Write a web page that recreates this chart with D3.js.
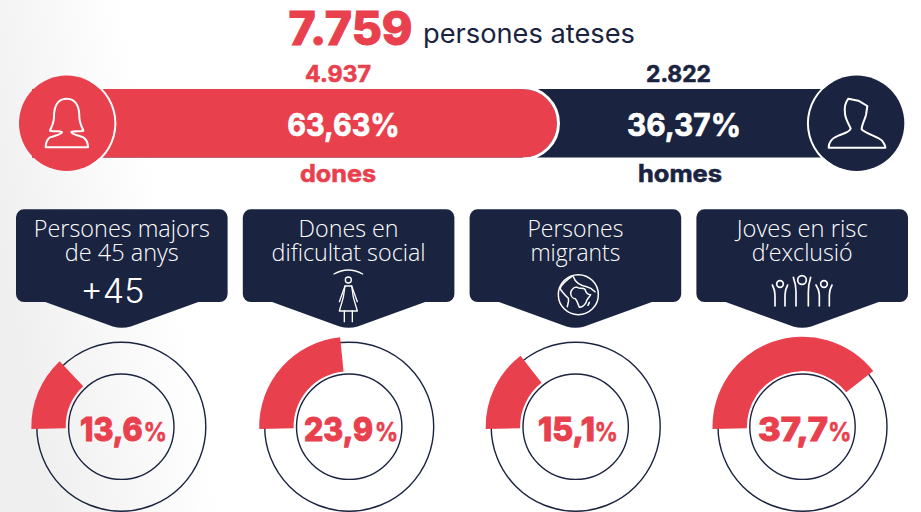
<!DOCTYPE html>
<html>
<head>
<meta charset="utf-8">
<style>
html, body { margin: 0; padding: 0; background: #fff; }
svg { display: block; }
text { font-family: Inter, "Open Sans", sans-serif; }
.light { font-family: "Open Sans", sans-serif; font-weight: 300; }
</style>
<script src="https://cdn.jsdelivr.net/npm/d3@7"></script>
</head>
<body>
<svg id="chart" width="921" height="512"></svg>
<script>
var totalLabel = '7.759';
var totalCaption = 'persones ateses';
var genderNames = ['dones', 'homes'];
var genderCounts = ['4.937', '2.822'];
var genderShares = [63.63, 36.37];

var groupTitles = [
    ['Persones majors', 'de 45 anys'],
    ['Dones en', 'dificultat social'],
    ['Persones', 'migrants'],
    ['Joves en risc', 'd\u2019exclusió']
];
var groupLabels = [13.6, 23.9, 15.1, 37.7];
// sweep of each red arc (the last one is drawn wider than its label)
var groupSweeps = [13.4, 23.8, 14.9, 39.8];

(function(){
    var red = '#e9404e',
        navy = '#1a2340';

    var fmt = function(v, digits){ return v.toFixed(digits).replace('.', ','); };

    var svg = d3.select('#chart');

    // pale grey wash on the left edge
    var grad = svg.append('defs').append('linearGradient')
        .attr('id', 'wash')
        .attr('gradientUnits', 'userSpaceOnUse')
        .attr('x1', 0).attr('y1', 256)
        .attr('x2', 165).attr('y2', 224);
    grad.append('stop').attr('offset', 0).attr('stop-color', '#efefef');
    grad.append('stop').attr('offset', 1).attr('stop-color', '#fff');
    svg.append('rect').attr('width', 921).attr('height', 512).attr('fill', 'url(#wash)');

    // fits a label to the width it has in the picture, bold thickens the glyphs a little
    function label(parent, x, y, str, size, weight, col, len, bold){
        var t = parent.append('text')
            .attr('x', x).attr('y', y)
            .attr('text-anchor', 'middle')
            .attr('font-size', size)
            .attr('font-weight', weight)
            .attr('fill', col)
            .text(str);
        if (len) t.attr('textLength', len).attr('lengthAdjust', 'spacingAndGlyphs');
        if (bold) t.attr('stroke', col).attr('stroke-width', bold);
        return t;
    }

    // headline
    label(svg, 350.5, 45, totalLabel, 46, 800, red, 124, 1);
    label(svg, 529, 43, totalCaption, 26, 400, navy, 212);

    // stacked bar
    var x = d3.scaleLinear().domain([0, 100]).range([32, 857]);
    var barTop = 89, barH = 68.5, barR = barH / 2;
    var split = x(genderShares[0]);

    svg.append('rect')
        .attr('x', x(0)).attr('y', barTop)
        .attr('width', x(100) - x(0)).attr('height', barH)
        .attr('fill', navy);

    var womenPath = d3.path();
    womenPath.moveTo(x(0), barTop);
    womenPath.lineTo(split - barR, barTop);
    womenPath.arc(split - barR, barTop + barR, barR, -Math.PI / 2, Math.PI / 2);
    womenPath.lineTo(x(0), barTop + barH);
    womenPath.closePath();
    svg.append('path').attr('d', womenPath.toString()).attr('fill', red);

    // white edge on the round end only
    var edge = d3.path();
    edge.arc(split - barR, barTop + barR, barR + 1.5, -Math.PI / 2, Math.PI / 2);
    svg.append('path')
        .attr('d', edge.toString())
        .attr('fill', 'none')
        .attr('stroke', '#fff')
        .attr('stroke-width', 3);

    var ends = [
        {cx: 66.7, col: red},
        {cx: 856.6, col: navy}
    ];
    svg.selectAll('.end').data(ends).enter().append('circle')
        .attr('class', 'end')
        .attr('cx', function(d){ return d.cx })
        .attr('cy', 123.3)
        .attr('r', 47.7)
        .attr('fill', function(d){ return d.col });
    // white ring where the circle meets the bar
    [[66.7, 30, 150], [856.6, 210, 330]].forEach(function(a){
        svg.append('path')
            .attr('transform', 'translate(' + a[0] + ',123.3)')
            .attr('d', d3.arc()({
                innerRadius: 47.7, outerRadius: 49.7,
                startAngle: a[1] * Math.PI / 180, endAngle: a[2] * Math.PI / 180
            }))
            .attr('fill', '#fff');
    });

    var shareX = [343.5, 684];
    var shareLen = [112.5, 114];
    var countX = [338, 678.5];
    var countLen = [66, 65];
    var nameX = [338, 680];
    var nameLen = [76, 84];
    var genderCols = [red, navy];
    genderNames.forEach(function(n, i){
        label(svg, countX[i], 82.3, genderCounts[i], 23, 700, genderCols[i], countLen[i], 0.6);
        label(svg, shareX[i], 136, fmt(genderShares[i], 2) + '%', 31, 700, '#fff', shareLen[i], 0.7);
        label(svg, nameX[i], 181.7, n, 24, 700, genderCols[i], nameLen[i], 0.6);
    });

    // person icons, outlined by eye in 3x picture coordinates
    var iconStroke = {fill: 'none', stroke: '#fff', 'stroke-width': 6, 'stroke-linejoin': 'round', 'stroke-linecap': 'round'};
    function icon(tx, ty, sw){
        var g = svg.append('g').attr('transform', 'translate(' + tx + ',' + ty + ') scale(' + (1 / 3) + ')');
        for (var k in iconStroke) g.attr(k, iconStroke[k]);
        if (sw) g.attr('stroke-width', sw);
        return g;
    }
    icon(0, 0).append('path').attr('d',
        'M200 296C170 296 162 325 162 350C162 370 152 385 150 392C165 396 180 392 186 396C186 403 170 405 150 412' +
        'C140 420 137 432 137 442L264 442C264 430 262 420 250 412C232 405 214 403 214 396C222 392 236 396 250 392' +
        'C248 385 238 370 238 350C238 325 230 296 200 296Z');
    icon(460, 0).append('path').attr('d',
        'M1165 296L1195 302L1222 318L1218 345C1214 360 1205 375 1205 388C1215 400 1255 410 1266 422' +
        'C1272 430 1276 437 1276 443L1106 443C1106 430 1115 415 1135 407C1150 400 1170 397 1172 385' +
        'C1165 370 1155 355 1155 340C1152 320 1158 305 1165 296Z');

    // group cards
    var cardX = d3.scaleBand().domain(d3.range(4)).range([16, 908]).paddingInner(0.067);
    var cw = cardX.bandwidth();
    var cardTop = 209.3, cardBot = 302, tipY = 328, rr = 8;

    function cardPath(){
        var m = cw / 2;
        var p = d3.path();
        p.moveTo(rr, cardTop);
        p.lineTo(cw - rr, cardTop);
        p.arcTo(cw, cardTop, cw, cardTop + rr, rr);
        p.lineTo(cw, cardBot - rr);
        p.arcTo(cw, cardBot, cw - rr, cardBot, rr);
        p.lineTo(m + 76.5, cardBot);
        p.lineTo(m + 9, tipY - 1.5);
        p.quadraticCurveTo(m, tipY + 1, m - 9, tipY - 1.5);
        p.lineTo(m - 76.5, cardBot);
        p.lineTo(rr, cardBot);
        p.arcTo(0, cardBot, 0, cardBot - rr, rr);
        p.lineTo(0, cardTop + rr);
        p.arcTo(0, cardTop, rr, cardTop, rr);
        p.closePath();
        return p.toString();
    }

    var cards = svg.selectAll('.card').data(groupTitles).enter().append('g')
        .attr('class', 'card')
        .attr('transform', function(d, i){ return 'translate(' + cardX(i) + ',0)' });
    cards.append('path').attr('d', cardPath()).attr('fill', navy);

    var titleLens = [[176, 114], [100, 154], [96, 90], [131, 101]];
    cards.each(function(d, i){
        var g = d3.select(this);
        d.forEach(function(line, j){
            label(g, cw / 2, 236.7 + j * 24, line, 23.5, 300, '#fff', titleLens[i][j])
                .attr('class', 'light');
        });
    });

    // +45 badge
    label(svg, 112.5, 303, '+45', 34, 300, '#fff', 64);

    // standing woman
    var w = icon(0, 200, 4);
    w.append('path').attr('d', 'M1002 222Q1045 198 1088 222');
    w.append('circle').attr('cx', 1045).attr('cy', 240).attr('r', 9);
    w.append('path').attr('d', 'M1035 258L1055 258L1060 292L1072 333L1018 333L1030 292Z');
    w.append('path').attr('d', 'M1035 258L1018 305M1055 258L1072 305M1033 333L1033 365M1057 333L1057 365');

    // globe
    var gl = icon(460, 200, 4.5);
    gl.append('circle').attr('cx', 355).attr('cy', 284).attr('r', 60);
    gl.append('path').attr('d',
        'M332 278C336 265 345 260 352 262C360 268 368 262 375 268C378 280 385 284 392 284C385 296 378 300 378 308' +
        'C372 318 366 322 358 322C354 312 352 302 346 296C338 296 332 288 332 278Z');
    gl.append('path').attr('d',
        'M335 230C320 240 305 255 300 265C305 275 315 285 325 295C328 305 322 315 322 320' +
        'M340 230C345 245 355 255 380 260C390 262 400 270 405 275M388 307L384 316');

    // raised arms
    var ra = icon(460, 200, 5);
    ra.append('circle').attr('cx', 960).attr('cy', 252).attr('r', 10);
    ra.append('circle').attr('cx', 1026).attr('cy', 240).attr('r', 13);
    ra.append('circle').attr('cx', 1092).attr('cy', 252).attr('r', 10);
    ra.append('path').attr('d',
        'M945 318L945 285Q945 270 937 255M975 318L975 285Q975 270 983 255' +
        'M1008 318L1008 275Q1008 255 1000 232M1045 318L1045 275Q1045 255 1052 232' +
        'M1078 318L1078 285Q1078 270 1068 255M1108 318L1108 285Q1108 270 1116 255');

    // donuts
    var donutCx = [121.3, 349.2, 575.7, 802.5];
    var cy = 426.7;
    var angle = d3.scaleLinear().domain([0, 100]).range([0, 2 * Math.PI]);
    var startA = -Math.PI / 2 - 0.026;
    var arc = d3.arc().innerRadius(55.6).outerRadius(90);

    var numX = [111.3, 338.5, 566.5, 793];
    var numLen = [62.7, 69, 57, 70];
    var pctX = [155.3, 386.5, 606.3, 839.8];
    var pctLen = 23.5;

    var donuts = svg.selectAll('.donut').data(groupLabels).enter().append('g')
        .attr('class', 'donut')
        .attr('transform', function(d, i){ return 'translate(' + donutCx[i] + ',' + cy + ')' });

    donuts.append('circle').attr('r', 84.5)
        .attr('fill', 'none').attr('stroke', navy).attr('stroke-width', 1.4);
    donuts.append('path')
        .attr('d', function(d, i){
            return arc({startAngle: startA, endAngle: startA + angle(groupSweeps[i])});
        })
        .attr('fill', red);
    donuts.append('circle').attr('r', 52.7)
        .attr('fill', 'none').attr('stroke', navy).attr('stroke-width', 1.4);

    donuts.each(function(d, i){
        var g = d3.select(this);
        label(g, numX[i] - donutCx[i], 14, fmt(d, 1), 33, 800, red, numLen[i], 1);
        label(g, pctX[i] - donutCx[i], 14, '%', 25, 700, red, pctLen, 0.5);
    });
})();
</script>
</body>
</html>
